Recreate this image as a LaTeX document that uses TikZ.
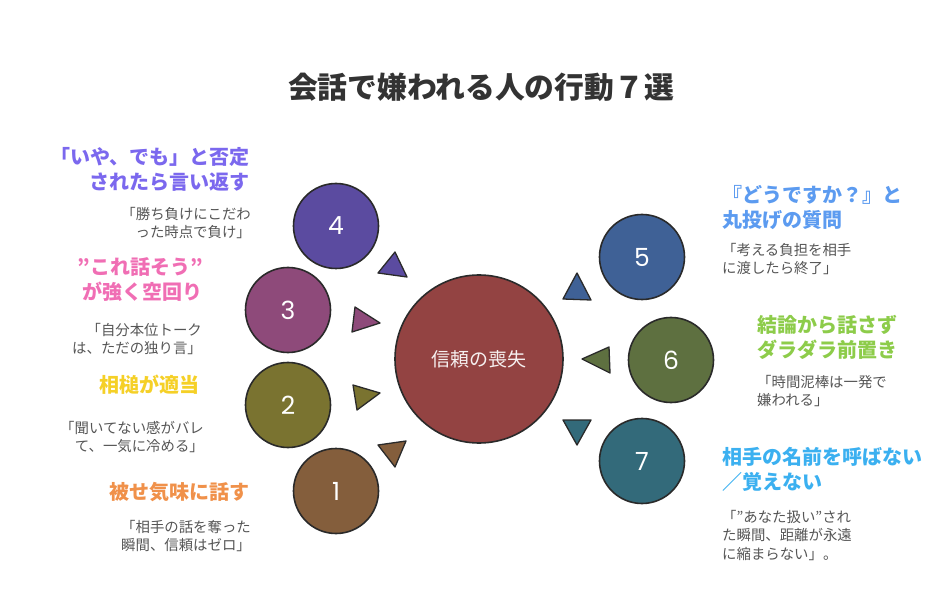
\documentclass[tikz,border=0pt]{standalone}
\usepackage{fontspec}
\setmainfont{Noto Sans CJK JP}
\newfontfamily\numfont{Poppins}
\usetikzlibrary{positioning,calc}

\definecolor{line}{HTML}{2A2A2A}
\definecolor{titlegray}{HTML}{333333}
\definecolor{notegray}{HTML}{555555}
\definecolor{lossred}{HTML}{934342}
\definecolor{c1}{HTML}{845E3C}
\definecolor{c2}{HTML}{7A7330}
\definecolor{c3}{HTML}{8E4A7A}
\definecolor{c4}{HTML}{5B4BA0}
\definecolor{c5}{HTML}{3F6196}
\definecolor{c6}{HTML}{5E7040}
\definecolor{c7}{HTML}{336A7A}
\definecolor{h1}{HTML}{F0914A}
\definecolor{h2}{HTML}{F5D027}
\definecolor{h3}{HTML}{F06EB4}
\definecolor{h4}{HTML}{7B68EE}
\definecolor{h5}{HTML}{5C9BF0}
\definecolor{h6}{HTML}{8DCC4A}
\definecolor{h7}{HTML}{3BB0F0}

\begin{document}
\begin{tikzpicture}[
    x=1pt,y=-1pt,
    bubble/.style={circle,draw=line,line width=1.6pt,minimum size=85pt,inner sep=0pt,text=white,font=\numfont\fontsize{25}{25}\selectfont},
    heading/.style={inner sep=0pt,font=\bfseries\fontsize{20}{25}\selectfont},
    note/.style={inner sep=0pt,text=notegray,font=\fontsize{14.4}{18.5}\selectfont},
    tri/.style={draw=line,line width=1.3pt,line join=round}
]

\useasboundingbox (0,0) rectangle (948,612);

% Title
\node[font=\bfseries\fontsize{29.8}{29.8}\selectfont,text=titlegray] (title) at (481,87) {会話で嫌われる人の行動７選};

% Centre
\node[circle,draw=line,line width=1.6pt,fill=lossred,minimum size=168pt,text=white!92!lossred,font=\fontsize{19}{19}\selectfont] (loss) at (479,359) {信頼の喪失};

% Small circles
\node[bubble,fill=c4] (c4) at (336,226) {4};
\node[bubble,fill=c3] (c3) at (288,310) {3};
\node[bubble,fill=c2] (c2) at (288,405) {2};
\node[bubble,fill=c1] (c1) at (336,491) {1};
\node[bubble,fill=c5] (c5) at (642,257) {5};
\node[bubble,fill=c6] (c6) at (671,360) {6};
\node[bubble,fill=c7] (c7) at (642,461) {7};

% Arrow heads round the centre
\foreach \ax/\ay/\bx/\by/\cx/\cy/\col in {
    395/252/378/273/407/277/c4,
    355/307/352/332/380/323/c3,
    353/385/357/410/380/393/c2,
    378/445/395/467/406/441/c1,
    577/273/563/299/591/300/c5,
    582/359/609/347/610/373/c6,
    563/420/591/420/577/445/c7} {
    \filldraw[tri,fill=\col] (\ax,\ay) -- (\bx,\by) -- (\cx,\cy) -- cycle;
}

% Left side texts
\node[heading,text=h4,align=right,anchor=north east] (head4) at (250,147) {「いや、でも」と否定\\されたら言い返す};
\node[note,align=right,anchor=north east] (note4) at (251,207) {「勝ち負けにこだわ\\った時点で負け」};

\node[heading,text=h3,align=right,anchor=north east] (head3) at (203,257) {”これ話そう”\\が強く空回り};
\node[note,align=right,anchor=north east] (note3) at (202,323) {「自分本位トーク\\は、ただの独り言」};

\node[heading,text=h2,align=right,anchor=north east] (head2) at (200,375) {相槌が適当};
\node[note,align=right,anchor=north east] (note2) at (204,421) {「聞いてない感がバレ\\て、一気に冷める」};

\node[heading,text=h1,align=right,anchor=north east] (head1) at (250,482) {被せ気味に話す};
\node[note,align=right,anchor=north east] (note1) at (251,520) {「相手の話を奪った\\瞬間、信頼はゼロ」};

% Right side texts
\node[heading,text=h5,align=left,anchor=north west] (head5) at (722,185) {『どうですか？』と\\丸投げの質問};
\node[note,align=left,anchor=north west] (note5) at (722,243) {「考える負担を相手\\に渡したら終了」};

\node[heading,text=h6,align=left,anchor=north west] (head6) at (757,315) {結論から話さず\\ダラダラ前置き};
\node[note,align=left,anchor=north west] (note6) at (757,375) {「時間泥棒は一発で\\嫌われる」};

\node[heading,text=h7,align=left,anchor=north west] (head7) at (722,447) {相手の名前を呼ばない\\／覚えない};
\node[note,align=left,anchor=north west] (note7) at (722,510) {「”あなた扱い”され\\た瞬間、距離が永遠\\に縮まらない」。};

\end{tikzpicture}
\end{document}
